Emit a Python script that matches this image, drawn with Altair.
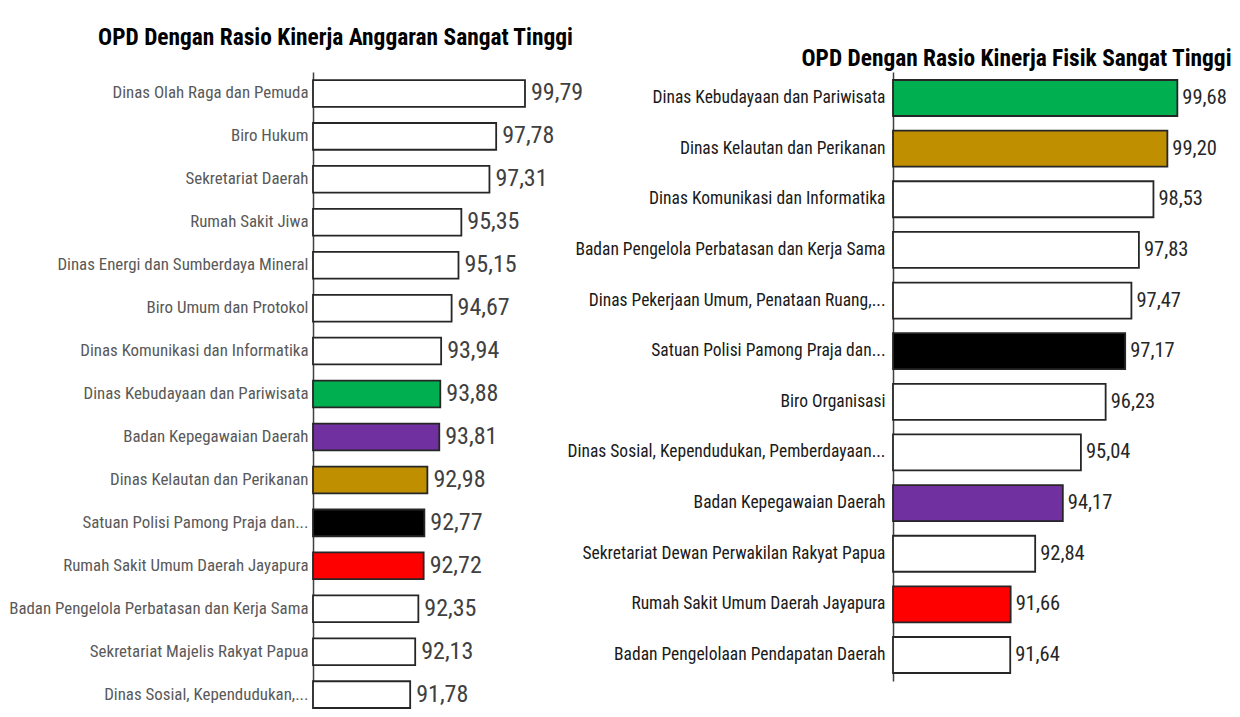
import altair as alt
import pandas as pd

# ---------------- data ----------------
left_title = "OPD Dengan Rasio Kinerja Anggaran Sangat Tinggi"
left_names = [
    "Dinas Olah Raga dan Pemuda",
    "Biro Hukum",
    "Sekretariat Daerah",
    "Rumah Sakit Jiwa",
    "Dinas Energi dan Sumberdaya Mineral",
    "Biro Umum dan Protokol",
    "Dinas Komunikasi dan Informatika",
    "Dinas Kebudayaan dan Pariwisata",
    "Badan Kepegawaian Daerah",
    "Dinas Kelautan dan Perikanan",
    "Satuan Polisi Pamong Praja dan...",
    "Rumah Sakit Umum Daerah Jayapura",
    "Badan Pengelola Perbatasan dan Kerja Sama",
    "Sekretariat Majelis Rakyat Papua",
    "Dinas Sosial, Kependudukan,...",
]
left_values = [99.79, 97.78, 97.31, 95.35, 95.15, 94.67, 93.94, 93.88,
               93.81, 92.98, 92.77, 92.72, 92.35, 92.13, 91.78]

right_title = "OPD Dengan Rasio Kinerja Fisik Sangat Tinggi"
right_names = [
    "Dinas Kebudayaan dan Pariwisata",
    "Dinas Kelautan dan Perikanan",
    "Dinas Komunikasi dan Informatika",
    "Badan Pengelola Perbatasan dan Kerja Sama",
    "Dinas Pekerjaan Umum, Penataan Ruang,...",
    "Satuan Polisi Pamong Praja dan...",
    "Biro Organisasi",
    "Dinas Sosial, Kependudukan, Pemberdayaan...",
    "Badan Kepegawaian Daerah",
    "Sekretariat Dewan Perwakilan Rakyat Papua",
    "Rumah Sakit Umum Daerah Jayapura",
    "Badan Pengelolaan Pendapatan Daerah",
]
right_values = [99.68, 99.20, 98.53, 97.83, 97.47, 97.17, 96.23, 95.04,
                94.17, 92.84, 91.66, 91.64]

# highlight colours (style)
highlight = {
    "Dinas Kebudayaan dan Pariwisata": "#00b050",
    "Badan Kepegawaian Daerah": "#7030a0",
    "Dinas Kelautan dan Perikanan": "#bf8f00",
    "Satuan Polisi Pamong Praja dan...": "#000000",
    "Rumah Sakit Umum Daerah Jayapura": "#ff0000",
}

COND = "Roboto Condensed, DejaVu Sans Condensed, sans-serif"


def panel(names, values, title, domain, width, height, p_inner, p_outer,
          band_align, label_size, label_pad, label_color, value_size,
          value_color, value_dx, title_offset, title_dx):
    df = pd.DataFrame({"name": names, "value": values})
    df["fill"] = [highlight.get(n, "#ffffff") for n in names]
    df["label"] = [f"{v:.2f}".replace(".", ",") for v in values]

    y = alt.Y(
        "name:N", sort=names,
        scale=alt.Scale(paddingInner=p_inner, paddingOuter=p_outer,
                        align=band_align),
        axis=alt.Axis(title=None, ticks=False, grid=False,
                      labelPadding=label_pad, labelLimit=600, labelFont=COND,
                      labelFontSize=label_size, labelColor=label_color,
                      domainColor="#404040", domainWidth=1.5),
    )
    x = alt.X("value:Q", scale=alt.Scale(domain=domain, nice=False, zero=False),
              axis=None)

    bars = alt.Chart(df).mark_bar(stroke="#262626", strokeWidth=1.8).encode(
        x=x, x2=alt.datum(domain[0]), y=y,
        fill=alt.Fill("fill:N", scale=None),
    )
    text = alt.Chart(df).mark_text(
        align="left", baseline="middle", dx=value_dx, font=COND,
        fontSize=value_size, color=value_color,
    ).encode(x=x, y=y, text="label:N")

    return alt.layer(bars, text).properties(
        width=width, height=height,
        title=alt.TitleParams(
            text=title, anchor="middle", frame="group", dx=title_dx,
            offset=title_offset, font=COND,
            fontSize=23.4, fontWeight="bold", color="#000000",
        ),
    )


left = panel(left_names, left_values, left_title, [85, 100], 215, 636,
             0.377, 0.094, 1, 16.9, 5, "#595959", 24, "#404040", 6, 22, -85)
right = panel(right_names, right_values, right_title, [86, 100], 291, 609,
              0.289, 0.158, 0.5, 17.5, 8, "#1a1a1a", 20.5, "#262626", 5, 1, -22)

chart = alt.hconcat(left, right, spacing=365, bounds="flush").properties(
    padding={"left": 0, "top": 17, "right": 0, "bottom": 0},
    background="white",
).configure_view(stroke=None)

chart.save("out.html", embed_options={"renderer": "svg", "actions": False})
